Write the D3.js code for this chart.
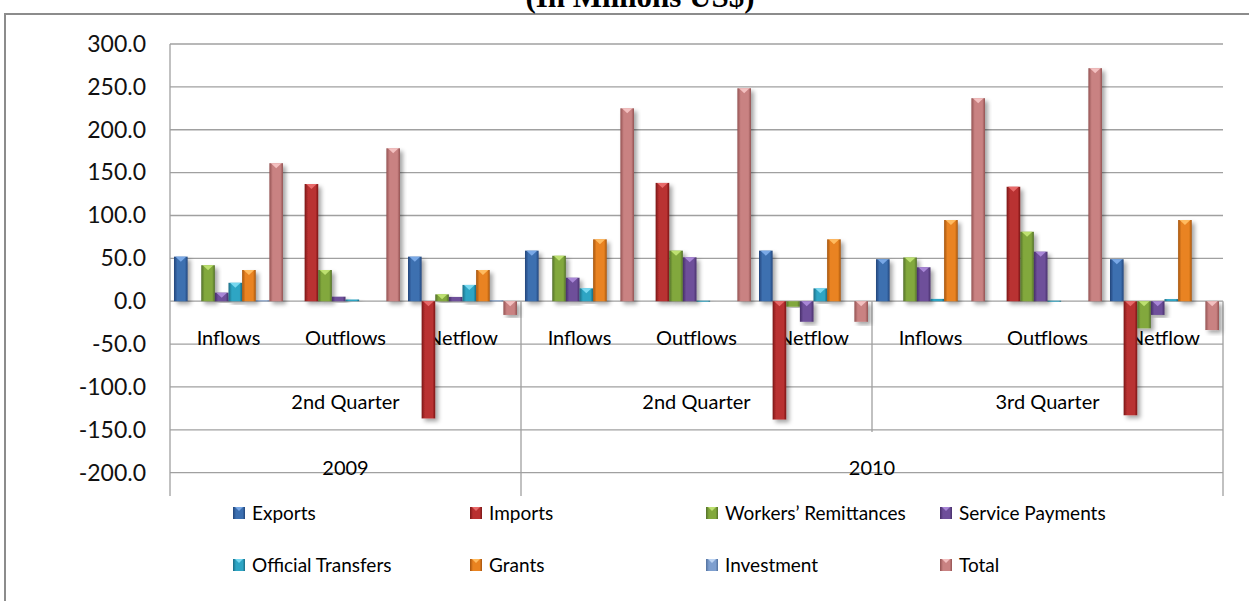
<!DOCTYPE html>
<html><head><meta charset="utf-8">
<script src="https://cdn.jsdelivr.net/npm/d3@7"></script>
<style>body{margin:0;background:#fff}svg{display:block}</style>
</head><body>
<svg id="c" width="1249" height="601"></svg>
<script>
const categories = ["Inflows","Outflows","Netflow","Inflows","Outflows","Netflow","Inflows","Outflows","Netflow"];
const quarters = [{label:"2nd Quarter",from:0,to:2},{label:"2nd Quarter",from:3,to:5},{label:"3rd Quarter",from:6,to:8}];
const years = [{label:"2009",from:0,to:2},{label:"2010",from:3,to:8}];
const seriesNames = ["Exports","Imports","Workers\u2019 Remittances","Service Payments","Official Transfers","Grants","Investment","Total"];
const exportsV   = [52, 0, 52, 59, 0, 59, 49, 0, 49];
const importsV   = [0, 136.7, -136.7, 0, 138, -138, 0, 133.5, -133];
const workersV   = [42, 36.4, 8, 53, 59, -6.4, 51, 81, -31.6];
const serviceV   = [10, 5.3, 5, 27.4, 51.2, -24, 39.6, 57.8, -16];
const officialV  = [21.5, 2, 19, 15, 0.6, 15, 2.7, 0.6, 2.5];
const grantsV    = [36.4, 0, 36.4, 72.2, 0, 72.2, 94.7, 0, 94.7];
const investV    = [1, 0, 1, 0, 0, 0, 0, 0, 0];
const totalV     = [161, 178.4, -16, 225, 248.4, -24, 236.8, 271.8, -33.6];
const seriesValues = [exportsV, importsV, workersV, serviceV, officialV, grantsV, investV, totalV];
const yTicks = [300,250,200,150,100,50,0,-50,-100,-150,-200];
const colors = [
  {b:"#3c6fb0",d:"#22457a",l:"#79a8e6"},
  {b:"#b93030",d:"#7a1818",l:"#e86a6a"},
  {b:"#82a83c",d:"#53702a",l:"#bde070"},
  {b:"#6e4f9a",d:"#472f69",l:"#a886d6"},
  {b:"#2ea5c4",d:"#1a6c84",l:"#78d8f0"},
  {b:"#e98320",d:"#a4530e",l:"#ffbb60"},
  {b:"#7e9fcf",d:"#52719e",l:"#bcd3f2"},
  {b:"#c98282",d:"#935252",l:"#f3c0c0"}
];

const svg = d3.select("#c");
const font = "Lato, 'Liberation Sans', sans-serif";
const defs = svg.append("defs");
const f = defs.append("filter").attr("id","sh").attr("x","-50%").attr("y","-10%").attr("width","200%").attr("height","130%");
f.append("feDropShadow").attr("dx",3).attr("dy",3).attr("stdDeviation",2).attr("flood-color","#000").attr("flood-opacity",0.35);
colors.forEach((c,i)=>{
  const g = defs.append("linearGradient").attr("id","g"+i).attr("x1","0").attr("x2","1").attr("y1","0").attr("y2","0");
  g.append("stop").attr("offset","0").attr("stop-color",c.d);
  g.append("stop").attr("offset","0.25").attr("stop-color",c.b);
  g.append("stop").attr("offset","0.5").attr("stop-color",c.b);
  g.append("stop").attr("offset","0.8").attr("stop-color",c.b);
  g.append("stop").attr("offset","1").attr("stop-color",c.d);
});

// frame and title (title is cropped at the top edge, as in the reference)
svg.append("path").attr("d","M5,601V14H1249").attr("fill","none").attr("stroke","#8c8c8c").attr("stroke-width",2);
svg.append("text").attr("x",640).attr("y",7).attr("text-anchor","middle")
  .attr("font-family","'Liberation Serif', 'Times New Roman', serif").attr("font-weight","bold").attr("font-size",31)
  .text("(In Millions US$)");

const x0 = d3.scaleBand().domain(d3.range(categories.length)).range([170,1223]).padding(0);
const x1 = d3.scaleBand().domain(d3.range(seriesNames.length)).range([4, x0.bandwidth()-4]).padding(0);
const y = d3.scaleLinear().domain([-200,300]).range([472.7,44]);

// gridlines
svg.append("g").selectAll("line").data(yTicks).join("line")
  .attr("x1",170).attr("x2",1223).attr("y1",d=>y(d)).attr("y2",d=>y(d))
  .attr("stroke","#a0a0a0").attr("stroke-width",1.3);

// y axis
const yAxis = d3.axisLeft(y).tickValues(yTicks).tickFormat(d=>d.toFixed(1)).tickSize(0).tickPadding(24);
const ya = svg.append("g").attr("transform","translate(170,0)").call(yAxis);
ya.select(".domain").remove();
ya.selectAll("text").attr("font-family",font).attr("font-size",23).attr("fill","#111");
svg.append("line").attr("x1",170).attr("x2",170).attr("y1",44).attr("y2",496).attr("stroke","#a0a0a0").attr("stroke-width",1.3);

// separators
const y0 = y(0);
[[3,496],[6,432]].forEach(([i,yb])=>{
  svg.append("line").attr("x1",x0(i)).attr("x2",x0(i)).attr("y1",y0).attr("y2",yb).attr("stroke","#a0a0a0").attr("stroke-width",1.3);
});
svg.append("line").attr("x1",1223).attr("x2",1223).attr("y1",y0).attr("y2",496).attr("stroke","#a0a0a0").attr("stroke-width",1.3);

// category labels
const lab = svg.append("g").attr("font-family",font).attr("fill","#000").attr("text-anchor","middle");
lab.selectAll("text.c1").data(categories).join("text").attr("class","c1")
  .attr("x",(d,i)=>x0(i)+x0.bandwidth()/2).attr("y",345).attr("font-size",20).text(d=>d);
lab.selectAll("text.c2").data(quarters).join("text").attr("class","c2")
  .attr("x",d=>(x0(d.from)+x0(d.to)+x0.bandwidth())/2).attr("y",409).attr("font-size",20).text(d=>d.label);
lab.selectAll("text.c3").data(years).join("text").attr("class","c3")
  .attr("x",d=>(x0(d.from)+x0(d.to)+x0.bandwidth())/2).attr("y",475).attr("font-size",20).text(d=>d.label);

// bars
const bars = svg.append("g");
seriesValues.forEach((vals,s)=>{
  const g = bars.append("g");
  vals.forEach((v,i)=>{
    if (v === 0) return;
    const bx = x0(i)+x1(s), bw = x1.bandwidth();
    const top = Math.min(y(v),y0), h = Math.abs(y(v)-y0);
    g.append("rect").attr("x",bx).attr("y",top).attr("width",bw).attr("height",Math.max(h,1))
      .attr("fill","url(#g"+s+")").attr("filter","url(#sh)");
    if (h > 6) {
      const ty = top;
      g.append("path").attr("d",`M${bx+1.5},${ty}L${bx+bw-1.5},${ty}L${bx+bw/2},${ty+5}Z`).attr("fill",colors[s].l);
    }
  });
});

// legend
const legX = [233,470,706,940];
const legY = [513,565];
const leg = svg.append("g").attr("font-family",font).attr("font-size",19).attr("fill","#000");
seriesNames.forEach((n,i)=>{
  const lx = legX[i%4], ly = legY[Math.floor(i/4)];
  leg.append("rect").attr("x",lx).attr("y",ly-6).attr("width",12).attr("height",12).attr("fill","url(#g"+i+")");
  leg.append("path").attr("d",`M${lx+2},${ly-6}L${lx+10},${ly-6}L${lx+6},${ly-2}Z`).attr("fill",colors[i].l);
  leg.append("text").attr("x",lx+19).attr("y",ly).attr("dy","0.35em").text(n);
});
</script>
</body></html>
